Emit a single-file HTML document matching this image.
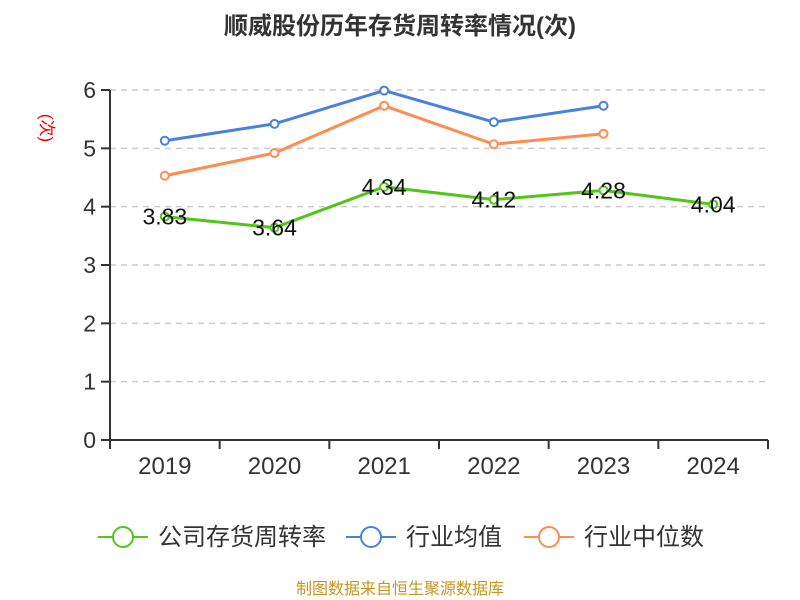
<!DOCTYPE html>
<html><head><meta charset="utf-8"><style>
body{margin:0;background:#fff;}
svg{display:block;font-family:"Liberation Sans","Noto Sans CJK SC",sans-serif;}
</style></head><body>
<svg width="800" height="600">
<text x="400" y="34" text-anchor="middle" font-size="24" font-weight="bold" fill="#333">顺威股份历年存货周转率情况(次)</text>
<text transform="translate(41,128) rotate(90)" text-anchor="middle" font-size="17" fill="#e00">(次)</text>
<g id="grid"></g><g id="axes"></g><g id="series"></g>
<g>
<g><line x1="98" y1="537" x2="148" y2="537" stroke="#52c41a" stroke-width="2"/><circle cx="123" cy="537" r="10" fill="#fff" stroke="#52c41a" stroke-width="2"/><text x="158" y="545" font-size="24" fill="#333">公司存货周转率</text></g>
<g><line x1="346" y1="537" x2="396" y2="537" stroke="#4a80e0" stroke-width="2"/><circle cx="371" cy="537" r="10" fill="#fff" stroke="#4a80e0" stroke-width="2"/><text x="406" y="545" font-size="24" fill="#333">行业均值</text></g>
<g><line x1="524" y1="537" x2="574" y2="537" stroke="#ff8c50" stroke-width="2"/><circle cx="549" cy="537" r="10" fill="#fff" stroke="#ff8c50" stroke-width="2"/><text x="584" y="545" font-size="24" fill="#333">行业中位数</text></g>
</g>
<text x="400" y="594" text-anchor="middle" font-size="16" fill="#c8961e">制图数据来自恒生聚源数据库</text>
</svg>
<script>
const categories=["2019","2020","2021","2022","2023","2024"];
const companyValues=[3.83,3.64,4.34,4.12,4.28,4.04];
const avgValues=[5.13,5.42,5.99,5.45,5.73,null];
const medianValues=[4.53,4.92,5.73,5.07,5.25,null];
const yTicks=[0,1,2,3,4,5,6];
const NS="http://www.w3.org/2000/svg";
const L=110,R=768,T=90,B=440,ymax=6;
const band=(R-L)/categories.length;
const x=i=>L+band*(i+0.5);
const y=v=>B-(v/ymax)*(B-T);
function mk(tag,attrs,parent,text){const e=document.createElementNS(NS,tag);for(const k in attrs)e.setAttribute(k,attrs[k]);if(text!=null)e.textContent=text;document.getElementById(parent).appendChild(e);return e;}
yTicks.forEach(t=>{
  if(t>0){const g=mk('line',{x1:L,x2:R,y1:y(t),y2:y(t),stroke:'#ccc','stroke-dasharray':'6,5','stroke-width':1.5},'grid');
  
  }
  const tk=mk('line',{x1:L-9,x2:L,y1:y(t),y2:y(t),stroke:'#333','stroke-width':2},'axes');
  
  
  const lb=mk('text',{x:L-14,y:y(t)+8,'text-anchor':'end','font-size':23,fill:'#333'},'axes',String(t));
  
  
});
const ya=mk('line',{x1:L,x2:L,y1:T,y2:B,stroke:'#333','stroke-width':2},'axes');


const xa=mk('line',{x1:L,x2:R,y1:B,y2:B,stroke:'#333','stroke-width':2},'axes');


for(let i=0;i<=categories.length;i++){
  const tk=mk('line',{x1:L+band*i,x2:L+band*i,y1:B,y2:B+9,stroke:'#333','stroke-width':2},'axes');
  
  
}
categories.forEach((c,i)=>{
  const lb=mk('text',{x:x(i),y:B+34,'text-anchor':'middle','font-size':24,fill:'#333'},'axes',c);
  
  
});
function series(vals,color,name,labels){
  const pts=vals.map((v,i)=>v==null?null:[x(i),y(v)]).filter(p=>p);
  const pl=mk('polyline',{points:pts.map(p=>p.join(',')).join(' '),fill:'none',stroke:color,'stroke-width':3},'series');
  
  
  vals.forEach((v,i)=>{
    if(v==null)return;
    const c=mk('circle',{cx:x(i),cy:y(v),r:4,fill:'#fff',stroke:color,'stroke-width':2},'series');
    
    
    if(labels){
      const t=mk('text',{x:x(i),y:y(v)+8,'text-anchor':'middle','font-size':23,fill:'#111'},'series',v.toFixed(2));
      
      
    }
  });
}
series(avgValues,'#4a80e0','industry-average',false);
series(medianValues,'#ff8c50','industry-median',false);
series(companyValues,'#52c41a','company',true);
</script>
</body></html>
